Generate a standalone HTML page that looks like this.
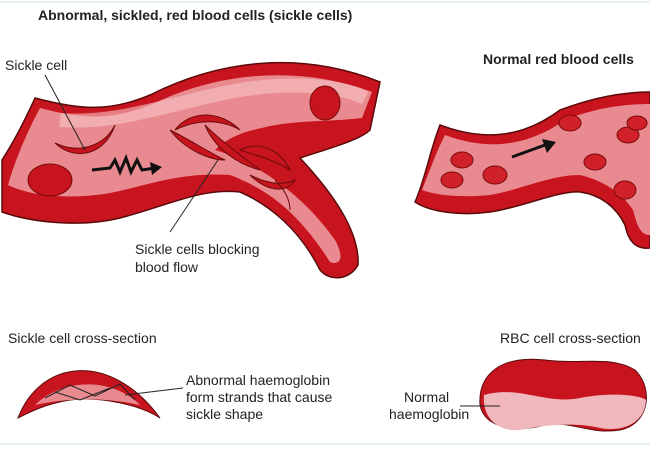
<!DOCTYPE html>
<html><head><meta charset="utf-8"><style>
body{margin:0;background:#fff;}
svg{display:block}
text{font-family:"Liberation Sans",Arial,sans-serif;fill:#222}
</style></head><body>
<svg width="650" height="450" viewBox="0 0 650 450">
<line x1="0" y1="2" x2="650" y2="2" stroke="#cfe3ee" stroke-width="1"/>
<line x1="0" y1="444" x2="650" y2="444" stroke="#cfe3ee" stroke-width="1"/>
<text x="38" y="20" font-size="14" font-weight="bold">Abnormal, sickled, red blood cells (sickle cells)</text>
<text x="483" y="64" font-size="14" font-weight="bold">Normal red blood cells</text>

<!-- left vessel -->
<path d="M35,98 C80,110 110,112 150,95 C220,60 300,50 380,82 L370,130 C360,140 330,148 300,158 C330,190 360,230 358,265 C350,280 330,282 320,270 C300,230 270,205 240,192 C200,188 170,205 120,218 C80,228 30,222 2,212 L2,160 C15,140 25,120 35,98Z" fill="#c8141e" stroke="#5a0a0a" stroke-width="1.5"/>
<path d="M40,108 C85,120 115,120 155,103 C220,72 300,65 372,92 L362,118 C330,122 290,120 262,128 C240,132 225,140 215,150 C250,160 300,190 335,240 C345,258 340,266 330,262 C300,215 270,190 230,175 C180,172 150,185 110,193 C70,200 30,196 8,185 C15,160 28,130 40,108Z" fill="#e88a8f"/>
<path d="M60,120 C120,125 180,100 240,90 C290,82 340,85 365,98" stroke="#f6c5c7" stroke-width="14" fill="none" opacity="0.6"/>
<ellipse cx="50" cy="180" rx="22" ry="16" fill="#c8141e" stroke="#7a0a0a"/>
<ellipse cx="325" cy="103" rx="15" ry="17" fill="#c8141e" stroke="#7a0a0a"/>
<path d="M55,143 C80,155 105,145 115,125 C105,155 75,162 55,143Z" fill="#c8141e" stroke="#6a0a0a"/>
<path d="M175,130 C190,110 220,110 240,130 C220,118 195,120 175,130Z" fill="#c8141e" stroke="#6a0a0a"/>
<path d="M170,130 C185,150 210,160 225,160 C205,150 190,140 170,130Z" fill="#c8141e" stroke="#6a0a0a"/>
<path d="M205,125 C215,150 240,165 260,170 C240,155 220,140 205,125Z" fill="#c8141e" stroke="#6a0a0a"/>
<path d="M240,150 C260,140 280,150 290,170 C275,160 255,155 240,150Z" fill="#c8141e" stroke="#6a0a0a"/>
<path d="M250,175 C270,185 285,185 295,180 C285,195 265,190 250,175Z" fill="#c8141e" stroke="#6a0a0a"/>
<path d="M275,180 C285,190 290,200 290,210" stroke="#6a0a0a" fill="none"/>
<path d="M92,170 L110,168 L115,160 L120,172 L126,158 L131,172 L137,160 L142,170 L155,168" stroke="#111" stroke-width="3" fill="none"/>
<path d="M150,162 L162,167 L152,175Z" fill="#111"/>
<line x1="45" y1="75" x2="85" y2="150" stroke="#222"/>
<line x1="170" y1="232" x2="218" y2="160" stroke="#222"/>
<text x="5" y="70" font-size="14">Sickle cell</text>
<text x="135" y="254" font-size="14">Sickle cells blocking</text>
<text x="135" y="272" font-size="14">blood flow</text>

<!-- right vessel -->
<path d="M440,125 C480,140 520,140 560,110 C600,95 630,92 650,92 L650,248 C635,250 628,240 625,225 C615,205 600,195 580,192 C560,190 520,208 490,212 C460,216 430,212 415,202 C425,180 430,150 440,125Z" fill="#c8141e" stroke="#5a0a0a" stroke-width="1.5"/>
<path d="M445,135 C485,150 525,148 565,120 C600,106 630,104 650,104 L650,235 C640,235 637,225 633,210 C620,190 600,180 580,175 C550,175 520,190 490,195 C460,198 435,195 422,190 C430,170 437,150 445,135Z" fill="#e88a8f"/>
<g fill="#d0202a" stroke="#7a0a0a">
<ellipse cx="570" cy="123" rx="11" ry="8"/><ellipse cx="628" cy="135" rx="11" ry="8"/>
<ellipse cx="637" cy="123" rx="10" ry="7"/><ellipse cx="462" cy="160" rx="11" ry="8"/>
<ellipse cx="452" cy="180" rx="11" ry="8"/><ellipse cx="495" cy="175" rx="12" ry="9"/>
<ellipse cx="595" cy="162" rx="11" ry="8"/><ellipse cx="625" cy="190" rx="11" ry="9"/>
</g>
<line x1="512" y1="157" x2="545" y2="145" stroke="#111" stroke-width="3"/>
<path d="M542,139 L556,142 L547,153Z" fill="#111"/>

<!-- cross sections -->
<text x="8" y="343" font-size="14">Sickle cell cross-section</text>
<path d="M18,418 C40,360 110,350 160,418 C140,405 100,396 70,400 C45,404 30,412 18,418Z" fill="#c8141e" stroke="#5a0a0a"/>
<path d="M35,405 C60,380 110,375 140,405 C110,398 70,397 35,405Z" fill="#e88a8f"/>
<path d="M45,398 L70,385 L95,396 L120,384 L135,400 M55,392 L80,400 L110,388" stroke="#222" fill="none"/>
<line x1="125" y1="395" x2="183" y2="388" stroke="#222"/>
<text x="186" y="385" font-size="14">Abnormal haemoglobin</text>
<text x="186" y="402" font-size="14">form strands that cause</text>
<text x="186" y="419" font-size="14">sickle shape</text>

<text x="500" y="343" font-size="14">RBC cell cross-section</text>
<path d="M480,405 C478,375 500,355 545,360 C580,365 610,355 635,370 C655,390 648,425 620,430 C590,435 570,420 545,425 C520,432 485,430 480,405Z" fill="#c8141e" stroke="#5a0a0a"/>
<path d="M484,395 C520,385 545,405 580,398 C610,392 640,395 646,400 C645,425 620,432 600,428 C575,422 545,425 520,430 C495,432 482,415 484,395Z" fill="#f0b8bc"/>
<line x1="460" y1="406" x2="500" y2="406" stroke="#222"/>
<text x="404" y="402" font-size="14">Normal</text>
<text x="389" y="419" font-size="14">haemoglobin</text>
</svg>
</body></html>
